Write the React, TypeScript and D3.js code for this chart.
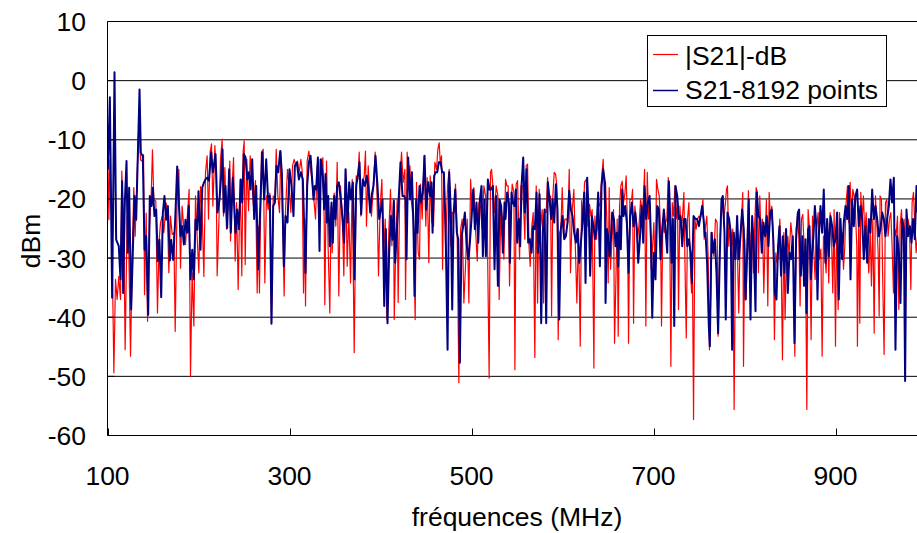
import React from "react";
import * as d3 from "d3";

const xTicks = [100, 300, 500, 700, 900];
const yTicks = [10, 0, -10, -20, -30, -40, -50, -60];
const seriesNames = ["|S21|-dB", "S21-8192 points"];
const xTitle = "fréquences (MHz)";
const yTitle = "dBm";

// |S21|-dB (red) : [MHz, dB]
const redPoints: [number, number][] = [
  [100.4,-12.2],[101.5,-23.5],[102.6,-13.4],[104.4,-21.2],[107,-49.4],[108.8,-33.6],[110.6,-37],[112.4,-33.1],[114.3,-37],[115.7,-15.3],
  [117.9,-24.6],[119.4,-45.5],[121.6,-22.9],[123.4,-28.6],[125.3,-46.6],[127.1,-30.3],[128.9,-18.1],[130.4,-26.3],[132.6,-15.6],[134.4,-7.4],
  [136.3,-13.4],[138.1,-13.6],[139.6,-12.5],[140.7,-36.2],[142.5,-22.4],[144,-40.7],[146.2,-24.6],[148,-19.5],[149.4,-11.7],[150.9,-20.1],
  [153.1,-20.4],[154.9,-39.3],[156.8,-26.9],[158.2,-24.1],[160.1,-22.9],[161.9,-25.7],[164.5,-20.7],[165.9,-22.9],[167.4,-32.5],[169.2,-22.9],
  [171.1,-26],[172.9,-25.7],[174.4,-42.4],[176.5,-20.1],[178.4,-15],[180.2,-31.7],[182,-21.2],[184.2,-25.7],[185.7,-27.7],[187.5,-23.5],
  [189.7,-18.4],[191.2,-50],[193,-32.5],[194.9,-41.5],[196.7,-19.5],[198.5,-26.3],[200.4,-32.5],[202.2,-17.9],[204,-22.4],[205.9,-33.1],
  [207.7,-15.5],[209.5,-12.7],[211,-23.4],[212.8,-12.1],[214.3,-10.7],[215.8,-21.2],[218,-11],[219.4,-15.5],[220.5,-33],[222.4,-24],
  [224.2,-13.3],[226,-9.9],[227.5,-22.9],[229,-14.7],[230.8,-25.1],[232.6,-20.6],[234.4,-13.6],[235.2,-27.1],[237,-17.8],[238.5,-13],
  [240.3,-30.5],[241.8,-20.6],[243.6,-35.3],[245.8,-16.7],[247.6,-33],[249.1,-11.9],[250.2,-10.2],[251.3,-31.1],[253.1,-13.3],[255,-22],
  [256.8,-12.7],[258.6,-16.9],[260.4,-21.2],[262.6,-16.9],[264.5,-35.9],[265.6,-24.6],[267,-35.9],[269.2,-12.1],[271.1,-11.6],[272.9,-34.2],
  [274.7,-19.5],[276.6,-21.8],[278.4,-19],[280.2,-41],[282.1,-19.5],[283.9,-20.6],[285.4,-11.6],[287.2,-19.5],[289,-22.3],[290.5,-11.9],
  [292.7,-25.1],[294.1,-36.4],[295.6,-22],[297.8,-15],[299.6,-17.8],[301.5,-22.3],[303.3,-14.4],[305.1,-13.3],[307,-14.4],[308.8,-13.6],
  [310.6,-15.5],[312.5,-13.3],[313.9,-15.2],[315.4,-35.9],[316.9,-23.4],
  [317.6,-38.1],[319.4,-13.6],[321.3,-11.9],[322.7,-14.4],[324.9,-17.2],[326.8,-20.1],[328.6,-23.4],[330.4,-14.4],[332.3,-23.4],[333.7,-13.3],
  [335.2,-15],[336.6,-13],[338.1,-23.4],[338.8,-37.9],[340.7,-13.6],[342.5,-28.5],[344.3,-39.3],[345.8,-21.2],[346.9,-29.1],[349.1,-19],
  [350.9,-24.6],[352.4,-13.8],[354.2,-36.4],[356,-17.8],[357.9,-22.3],[359.7,-33],[361.6,-15],[363.4,-31.4],[365.2,-22.3],[367.1,-34.2],
  [368.9,-16.7],[371.1,-46],[373.3,-16.1],[375.1,-16.7],[376.6,-12.1],[378.4,-22.9],[380.2,-17.8],[382.1,-16.1],[383.5,-11.9],[384.6,-24.6],
  [386.5,-14.4],[388.3,-20.1],[390.1,-22.9],[391.9,-18.4],[394.2,-12.1],[396,-17.8],[397.8,-33],[399.7,-21.2],[401.5,-16.7],[403.3,-30.2],
  [405.2,-23.4],[407,-40.4],[409.2,-25.1],[411,-18.4],[412.5,-27.9],[414.3,-20.1],[415.1,-40.4],[416.5,-30.2],[418.3,-20.1],[419.4,-37.5],
  [421.3,-16.7],[423.1,-12.1],[424.9,-17.2],[426.8,-15],
  [427.5,-37],[429.3,-12.1],[430.8,-17.2],[432.3,-14.4],[434.1,-20.6],[435.9,-23.4],[438.1,-40.4],[439.6,-17.2],[441.4,-29.1],[442.9,-30.2],
  [444,-17.5],[445.8,-23.4],[448,-12.7],[449.8,-24.6],[451.3,-16.4],[453.1,-30.8],[454.6,-16.1],[456.4,-24],[458.3,-24.6],[459.7,-13.8],
  [461.6,-15],[463,-11.6],[464.5,-10.5],[465.6,-13.8],[467.1,-12.7],[468.2,-31.9],[469.6,-15.5],[471.5,-28],[473.7,-17.8],[475.5,-15],
  [477.3,-28],[478.8,-22.3],[481,-22.3],[482.4,-17.5],[484.3,-26.3],[486.1,-51.1],[488,-25.1],[489.8,-23.4],[491.6,-37.6],[493.4,-31.4],
  [495.3,-23.4],[497.1,-37.6],[499,-16.7],[500.8,-21.8],[502.6,-18.1],[504.4,-25.1],[506.3,-30.5],[508.1,-20.6],[509.9,-21.2],[511.7,-25.1],
  [513.6,-17.8],[515.4,-19.5],[517.2,-22.9],[519.4,-50.3],[520.9,-15.5],[522,-15],[523.5,-17.8],[525.3,-22.3],[527.1,-17.8],[529,-19.5],
  [530.4,-37],[532.3,-21.2],[534.1,-23.4],[535.6,-30.2],
  [537.4,-16.7],[538.9,-17.8],[540.3,-17.8],[541.8,-34.7],[543.3,-22.9],[544.7,-17.5],[546.6,-18.9],[547.7,-48.9],[549.1,-17.5],[550.6,-16.9],
  [552.8,-30.2],[554.3,-17.8],[556.4,-17.8],[558.6,-26.8],[560.1,-14.4],[561.6,-14.1],[563.2,-28],[564.5,-31.4],[566,-25.1],[567.8,-22.3],
  [569.6,-46.8],[571.1,-17.8],[572.6,-37.6],[574.4,-18.4],[575.9,-24.6],[577.7,-21.8],[579.2,-37.6],[580.6,-21.8],[582.1,-22.3],[583.6,-16.4],
  [585.4,-20.1],[586.9,-19.5],[588,-39.8],[589.4,-19.5],[590.9,-15.5],[592.4,-15.8],[593.8,-17.8],[595.3,-43.8],[596.7,-25.7],[598.2,-25.1],
  [599.7,-18.1],[601.1,-26],[602.6,-23.4],[604.4,-23.4],[605.9,-24],[607.4,-15],[608.8,-32.5],[610.7,-21.8],[612.5,-18.4],[614,-27.4],
  [615.8,-37.6],[617.6,-25.1],[619.5,-44.9],[621,-20.3],[622.8,-23.4],[624.2,-17.2],[626.1,-16.7],[627.9,-24.6],[629.7,-20.9],[631.2,-22.9],
  [632.6,-21.8],[634.5,-48.6],[635.6,-22.9],[637.4,-26.8],[639.2,-20.6],[641.1,-21.2],[642.9,-16.7],[644.7,-13.3],[646.2,-20.6],
  [647.3,-17.2],[648.8,-24],[650.2,-34.2],[651.3,-18.1],[652.8,-31.9],[654.6,-26.3],[656.1,-21.8],[657.2,-44.4],[658.7,-33.6],[660.1,-23.4],
  [661.2,-43.2],[662.7,-21.2],[664.1,-17.8],[665.6,-17],[667.1,-20.6],[668.5,-19.2],[670,-16.1],[671.5,-25.7],[672.6,-44.4],[674,-20.1],
  [675.9,-20.1],[677,-18.4],[678.1,-41],[679.5,-21.2],[681,-23.4],[682.5,-26.8],[684,-24.6],[685.8,-20.1],[687.6,-22.3],[689.1,-19.5],
  [690.2,-15],[691.6,-41.5],[693.1,-15.5],[694.6,-23.4],[696,-20.6],[697.5,-31.9],[699,-28],[700.4,-24],[701.9,-33],[703.3,-16.7],
  [704.8,-18.4],[706.3,-19.5],[707.7,-25.1],[708.8,-41.5],[710.3,-23.4],[711.8,-25.7],[713.2,-24],[714.7,-23.4],[716.2,-16.4],[717.6,-20.1],
  [719.1,-48.3],[720.6,-20.6],[722,-22.9],[723.5,-17.8],[725,-23.4],[726.4,-20.6],[727.5,-38.7],[729,-21.2],[730.5,-25.1],[731.9,-22.9],
  [733.4,-18.9],[734.5,-30.2],[736,-43.5],[737.4,-23.4],[738.9,-20.6],[740.3,-30.2],[741.8,-35.9],[742.9,-33.6],[744,-57.3],[745.5,-23.4],
  [746.9,-25.1],[748.4,-23.4],[749.9,-22.9],[751.3,-23.4],[752.8,-22.3],[754.3,-20.1],[755.7,-26.8],
  [757.1,-24.6],[758.6,-22.9],[760.1,-30.2],[761.5,-45.5],[763,-35.9],[764.4,-25.7],[766.3,-29.7],[768.1,-23.4],[769.9,-24],[771,-43.2],
  [772.5,-30.8],[774,-23.4],[775.4,-20.1],[777.3,-23.4],[779.1,-20.6],[780.2,-18.4],[781.3,-17.8],[782.7,-28],[784.2,-24.6],[785.7,-28],
  [787.1,-25.1],[788.6,-55.6],[790.1,-28],[791.9,-26.3],[793.7,-39.3],[795.2,-26.3],[796.7,-23.4],[798.1,-18.9],[798.9,-48.3],[800.3,-26.8],
  [801.8,-37],[803.3,-25.1],[804.3,-18.6],[805.8,-31.4],[807.3,-25.7],[808.4,-25.1],[809.9,-32.5],[811.3,-24],[812.8,-18.1],[814.2,-18.9],
  [815.3,-32.5],[816.8,-19.5],[818.3,-26.8],[819.7,-23.4],[821.2,-35.9],[822.7,-26.3],[824.1,-20.1],[825.6,-38.1],[827.1,-18.9],[828.5,-23.4],
  [830,-21.2],[831.5,-26.3],[832.9,-43.8],[834.4,-29.1],[835.9,-30.8],[837.3,-29.1],[838.8,-23.4],[840.2,-29.1],[841.7,-47.2],[843.2,-25.7],
  [844.6,-40.4],[846.1,-29.1],[847.6,-26.3],[849,-29.7],[850.9,-24],[852.3,-26.3],[853.8,-30.2],[855.3,-46.6],[856.7,-25.1],[858.2,-22.9],
  [859.7,-26.3],[861.1,-38.1],[862.6,-23.4],[864,-22.6],[865.5,-28],
  [867,-29.1],[868.5,-55.6],[869.9,-21.8],[871.4,-25.1],[873.2,-43.8],[874.7,-22.9],[876.2,-29.1],[877.6,-33.6],[879.1,-25.1],[880.9,-22.3],
  [882.4,-30.2],[883.9,-28.5],[885.3,-46.6],[886.8,-26.3],[888.2,-29.1],[889.7,-32.5],[891.2,-24],[892.6,-34.2],[894.1,-22.3],[895.6,-26.3],
  [897,-35.9],[898.5,-21.8],[900,-44.9],[901.4,-23.4],[902.9,-38.7],[904.4,-22.3],[905.8,-26.8],[907.3,-25.7],[908.8,-31.9],[910.2,-28],
  [911.7,-20.6],[913.2,-17.8],[914.6,-24],[916.1,-17.2],[917.6,-23.4],[919,-18.4],[920.5,-19.5],[921.9,-22.3],[923.4,-28],[924.1,-44.9],
  [925.6,-22.3],[926.7,-41],[927.8,-18.9],[929.3,-23.4],[930.7,-19.5],[932.2,-26.3],[933.7,-22.3],[935.1,-28],[936.6,-32.5],[938.1,-25.1],
  [939.5,-34.7],[941,-23.4],[942.5,-42.7],[943.9,-19.5],[945.4,-24],[946.9,-29.1],[948,-39.8],[949,-19.5],[950.5,-20.1],[952,-34.7],
  [953.4,-46.3],[954.9,-20.6],[956.4,-20.1],[957.8,-26.3],[959.3,-23.4],[960.8,-22.3],[962.2,-28],[963.7,-35.9],[965.2,-25.1],[966.6,-26.3],
  [968.1,-22.9],[969.6,-38.7],[971,-24.6],[972.5,-21.8],[974,-26.8],[975.4,-23.4],[976.9,-30.2],[978.4,-25.7],[979.8,-23.4],[981.3,-25.1],
  [982.8,-35.3],[984.2,-20.6],[985.7,-18.9],[987.1,-24],[988.6,-29.1],[990.1,-26.3],
];

// S21-8192 points (navy) : [MHz, dB]
const bluePoints: [number, number][] = [
  [100.4,-15],[102.6,-2.8],[105.1,-36.7],[107.7,1.4],[109.5,-26.9],[112.4,-28],[114.3,-33.6],[116.1,-17],[117.2,-35.9],[119,-20.7],
  [120.9,-13.6],[122.3,-29.1],[123.8,-18.1],[126,-38.7],[127.8,-29.1],[129.7,-19.5],[131.5,-23.5],[133.7,-10.5],[135.2,-1.5],[136.6,-12.2],
  [138.8,-12.8],[140.7,-28.6],[142.5,-26.3],[144.7,-39.6],[146.5,-19.5],[148.4,-21.2],[149.8,-18.1],[151.6,-22.9],[153.5,-21.8],[155.3,-30.5],
  [157.1,-26.9],[159,-36.6],[160.8,-22.4],[162.6,-19.5],[164.5,-23.5],[166.3,-21.2],[168.5,-30.4],[170,-26.9],[172.2,-30.3],[174.4,-23.5],
  [176.6,-14.5],[178.4,-20.7],[180.2,-26.3],[182.1,-24.6],[183.9,-27.7],[185.7,-23.5],[187.6,-25.7],[189.3,-21.2],[191.2,-33.6],[193.1,-28.6],
  [194.8,-33.6],[196.7,-23.5],[198.6,-25.2],[200,-18.7],[202.2,-28.6],[204.1,-18.1],[205.8,-17.3],
  [207.7,-16.7],[209.5,-16.4],[211.4,-16.9],[213.9,-12.1],[215.8,-15.5],[218.7,-12.4],[220.9,-22.3],[223.1,-20.1],[224.9,-16.1],[226.4,-11.6],
  [227.8,-22.3],[229.7,-17.8],[231.5,-24.9],[233.7,-15],[235.5,-25.7],[237.7,-16.4],[240.7,-25.7],[242.5,-21.8],[244.3,-25.1],[246.5,-16.7],
  [248,-20.6],[249.8,-12.4],[251.7,-13],[253.5,-16.7],[255.3,-15.5],[257.2,-18.4],[259,-13.3],[261.2,-23.4],[263.4,-17.8],[265.6,-31.9],
  [267.4,-23.4],[270,-12.1],[272.2,-20.1],[274.4,-13.3],[276.6,-20.6],[278.4,-19.5],[280.2,-41.1],[282.1,-21.2],[283.9,-20.6],[285.7,-14.4],
  [287.6,-15.5],[289.8,-11.9],[291.6,-15.5],[293.8,-31.4],[295.6,-22.9],[297.8,-24],[300,-15],[302.2,-17.8],[304.4,-22.9],[305.9,-14.4],
  [308.1,-13.8],[310.3,-16.7],[312.5,-15.5],[314.7,-16.7],[316.1,-24.6],
  [317.6,-32.5],[319.4,-17.8],[321.3,-13.8],[323.1,-12.7],[324.9,-16.7],[326.4,-20.1],[327.9,-17.8],[329.3,-18.4],[331.2,-13],[333,-28.8],
  [334.5,-13.3],[336.6,-16.1],[338.1,-21.8],[339.6,-15.8],[341,-24],[342.5,-19.5],[344.3,-28],[346.2,-20.6],[347.6,-27.4],[349.1,-19.5],
  [350.6,-23.4],[352.4,-17.8],[354.2,-17.2],[356.4,-20.1],[358.3,-23.4],[360.1,-27.4],[361.6,-15],[363.8,-24],[365.6,-17.2],[367.4,-20.1],
  [369.6,-17.2],[371.4,-33.6],[373.3,-17.8],[375.1,-16.1],[376.9,-13.8],[378.8,-22.6],[380.6,-16.7],[382.8,-17.8],[385,-16.1],[386.8,-18.4],
  [388.7,-22.3],[390.5,-19.2],[392.3,-17.8],[394.5,-12.7],[396.7,-17.8],[398.6,-23.4],[400.4,-21.8],[402.2,-20.1],[404.1,-38.1],[405.9,-25.1],
  [407.7,-41],[409.5,-29.1],[411.4,-22.9],[413.2,-26.9],[414.7,-20.3],[416.1,-30.8],[418,-25.1],[419.8,-20.6],[422,-13.8],[424.2,-19.5],
  [426,-19.5],
  [427.5,-20.1],[428.6,-30.2],[430.4,-13],[432.6,-20.1],[434.5,-15.5],[436.3,-25.1],[437.4,-36.4],[439.2,-20.1],[440.7,-25.7],[442.9,-17.8],
  [444.7,-20.6],[446.5,-18.9],[448.4,-12.7],[450.2,-21.8],[452.4,-17.2],[454.6,-19.5],[456.1,-17.2],[457.2,-25.7],[459,-16.1],[460.5,-15.5],
  [462.3,-15.5],[464.1,-13.8],[466,-13.8],[467.8,-15.5],[469.6,-15.5],[471.5,-24.6],[473.7,-45.5],[475.5,-15.5],[477.3,-22.3],[478.8,-38.7],
  [480.3,-22.6],[482.1,-18.4],[483.9,-25.7],[485.4,-26.8],[487.2,-47.7],[489.1,-26.3],[490.9,-24.6],[492.7,-22.3],[494.5,-27.4],[496.4,-30.2],
  [498.2,-27.4],[500,-23.4],[501.9,-18.4],[503.7,-25.1],[505.5,-20.6],[507.4,-27.4],[509.2,-20.1],[511,-17.8],[512.5,-29.7],[514.3,-20.1],
  [515.8,-29.7],[518,-16.7],[519.8,-18.4],[521.6,-18.4],[523.5,-17.8],[525.3,-31.9],[527.1,-19.5],[529,-34.7],[530.8,-20.1],[532.6,-21.2],
  [534.5,-29.1],[536.3,-20.6],
  [537.4,-23.4],[539.2,-18.9],[541.1,-20.6],[542.2,-30.8],[544,-18.9],[545.5,-20.6],[547.3,-21.2],[548.8,-18.4],[550.2,-27.4],[552.1,-23.4],
  [553.5,-28],[555,-17.8],[556.8,-13],[558.6,-22.3],[560.5,-15],[562.3,-27.4],[564.1,-26.8],[566,-29.1],[567.8,-24.6],[569.6,-25.1],
  [571.5,-18.9],[573,-29.1],[574.8,-19.2],[576.6,-41],[578.4,-25.7],[580.3,-21.8],[582.1,-41],[583.9,-17.2],[585.8,-20.1],[587.6,-23.4],
  [589.1,-20.1],[590.9,-24],[592.7,-17.5],[594.5,-21.8],[596.4,-40.4],[598.2,-25.1],[600,-22.9],[601.9,-26.8],[603.7,-26.3],[605.5,-24],
  [607.4,-18.6],[609.2,-21.8],[611,-22.9],[612.9,-25.7],[614.7,-27.4],[616.5,-25.1],[618.4,-30.8],[620.2,-27.4],[622,-24],[623.9,-18.9],
  [625.3,-34.2],[627.1,-16.4],[629,-23.4],[630.4,-33],[632.3,-22.9],[634.1,-24.6],[635.6,-26.8],[637.4,-25.1],[639.2,-18.9],[641.1,-31.4],
  [642.9,-17.8],[644.7,-15],[646.6,-17.2],
  [647.3,-37.6],[648.8,-25.1],[650.2,-26.3],[651.7,-29.7],[653.2,-26.8],[654.6,-22.3],[656.5,-23.4],[658.3,-28],[659.8,-25.7],[661.2,-31.4],
  [662.7,-22.9],[664.1,-28.5],[665.6,-18.4],[667.1,-22.9],[668.9,-21.2],[670.7,-24],[672.6,-32.5],[674.4,-22.9],[676.2,-20.6],[678.1,-24.6],
  [679.9,-22.3],[681.7,-25.1],[683.2,-30.8],[685,-26.8],[686.9,-21.2],[688.7,-27.4],[690.2,-17.8],[692,-23.4],[693.8,-20.6],[695.7,-19.5],
  [697.1,-26.3],[698.6,-40.1],[700.4,-29.1],[702.2,-33.6],[704.1,-21.2],[705.9,-21.8],[707.7,-30.2],[709.6,-25.1],[711.4,-21.8],[713.2,-25.1],
  [715.1,-29.1],[716.9,-17],[718.7,-24.6],[719.8,-30.8],[721.3,-23.4],[722.8,-41.5],[724.2,-17.8],[726.1,-19.5],[727.9,-23.4],[729.7,-22.9],
  [731.6,-28],[733.4,-23.4],[735.2,-23.4],[737.1,-28],[738.9,-26.8],[740.7,-29.1],[742.2,-34.2],[744,-22.9],[746.2,-23.4],[748,-23.4],
  [749.9,-24.6],[751.7,-22.9],[753.5,-21.2],[755,-23.4],[756.5,-26.3],
  [757.1,-25.7],[758.9,-30.8],[760.8,-41.5],[761.9,-44.9],[763.7,-25.7],[765.5,-29.1],[767.4,-26.8],[769.2,-32.5],[771,-42.7],[772.9,-29.1],
  [774.7,-20.1],[776.1,-19.5],[778,-25.7],[779.4,-40.4],[781.3,-22.3],[783.1,-23.4],[784.9,-25.7],[786.4,-45.5],[788.2,-25.7],[790.1,-30.2],
  [791.9,-22.9],[793.7,-30.2],[795.6,-26.3],[797.4,-21.8],[799.2,-25.1],[801.1,-37],[802.9,-29.1],[804.7,-20.1],[806.6,-40.4],[808.4,-22.9],
  [810.2,-28],[812.1,-39],[813.5,-18.9],[815.3,-22.9],[817.2,-23.4],[819,-29.1],[820.8,-24],[822.7,-26.3],[824.5,-22.9],[826.3,-28],
  [828.2,-22.3],[830,-21.8],[831.8,-27.4],[833.3,-35.9],[835.1,-37],[836.9,-28],[838.4,-24.6],[840.2,-33],[842.1,-26.3],[843.9,-32.5],
  [845.7,-25.1],[847.6,-35.9],[849.4,-29.1],[851.2,-30.2],[853.1,-26.3],[854.9,-44.4],[856.7,-26.8],[858.6,-22.3],[860,-21.8],[861.9,-33],
  [863.7,-26.3],[865.5,-34.7],
  [867,-26.8],[868.1,-39.3],[869.9,-25.1],[871.4,-24.6],[872.9,-33.6],[874.3,-29.1],[875.8,-26.3],[877.3,-21.2],[878.7,-24],[880.2,-37],
  [881.7,-26.3],[883.5,-21.2],[885.3,-25.7],[887.1,-18.4],[889,-30.8],[890.8,-23.4],[892.6,-29.7],[894.5,-22.9],[896.3,-24.6],[898.1,-28],
  [900,-26.8],[901.8,-22.3],[903.6,-37],[905.5,-23.4],[907.3,-30.2],[909.1,-24],[911,-21.2],[912.8,-23.4],[914.6,-17.8],[916.5,-33.6],
  [918.3,-20.1],[920.1,-24.6],[921.9,-19.5],[923.8,-18.4],[925.6,-24.6],[927.4,-21.2],[929.3,-23.4],[931.1,-30.2],[932.9,-24.6],[934.8,-30.8],
  [936.6,-23.4],[938.4,-25.7],[940.3,-18.4],[942.1,-23.4],[943.9,-21.2],[945.8,-23.4],[947.6,-26.3],[949.4,-25.1],[951.3,-22.3],[953.1,-23.4],
  [954.9,-26.3],[956.7,-23.4],[958.6,-21.2],[960.4,-16.7],[962.2,-20.6],[964.1,-16.4],[965.9,-45.5],[967.7,-26.3],[969.6,-29.1],[971.4,-37.6],
  [973.2,-23.4],[975.1,-25.1],[976.5,-50.8],[978,-21.8],[979.8,-26.3],[981.7,-24.6],[983.5,-27.4],[985.3,-23.4],[987.1,-26.8],[989,-17.8],
  [990.1,-22.3],
];

const W = 917;
const H = 533;
const FONT = "'Liberation Sans', Arial, sans-serif";
const FS = 26.5;

export default function App() {
  const x = d3.scaleLinear().domain([100, 1000]).range([107.5, 926.5]);
  const y = d3.scaleLinear().domain([-60, 10]).range([435.5, 21.5]);
  const line = d3
    .line<[number, number]>()
    .x((d) => x(d[0]))
    .y((d) => y(d[1]));

  const plotLeft = x(100);
  const plotRight = W;
  const plotTop = y(10);
  const plotBottom = y(-60);

  return (
    <svg
      width={W}
      height={H}
      style={{ position: "absolute", left: 0, top: 0, background: "#fff" }}
      fontFamily={FONT}
    >
      <rect x={0} y={0} width={W} height={H} fill="#fff" />
      <defs>
        <clipPath id="plotClip">
          <rect x={plotLeft} y={plotTop - 2} width={plotRight - plotLeft} height={plotBottom - plotTop + 4} />
        </clipPath>
      </defs>
      {yTicks.map((t) => (
        <line key={"g" + t} x1={plotLeft} x2={plotRight} y1={y(t)} y2={y(t)} stroke="#000" strokeWidth={1} />
      ))}
      <g clipPath="url(#plotClip)">
        <path d={line(redPoints) || ""} fill="none" stroke="#ff0000" strokeWidth={1.2} strokeLinejoin="round" />
        <path d={line(bluePoints) || ""} fill="none" stroke="#000080" strokeWidth={2} strokeLinejoin="round" />
      </g>
      <line x1={plotLeft} x2={plotLeft} y1={plotTop} y2={plotBottom} stroke="#000" strokeWidth={1} />
      <line x1={plotLeft} x2={plotRight} y1={plotBottom} y2={plotBottom} stroke="#000" strokeWidth={1} />
      {xTicks.map((t) => (
        <line key={"xt" + t} x1={Math.round(x(t)) + 0.5} x2={Math.round(x(t)) + 0.5} y1={plotBottom} y2={plotBottom - 7} stroke="#000" />
      ))}
      {yTicks.map((t) => (
        <line key={"yt" + t} x1={plotLeft} x2={plotLeft + 7} y1={y(t)} y2={y(t)} stroke="#000" />
      ))}
      {xTicks.map((t) => (
        <text key={"xl" + t} x={x(t)} y={485} textAnchor="middle" fontSize={FS} fill="#000">
          {t}
        </text>
      ))}
      {yTicks.map((t) => (
        <text key={"yl" + t} x={86} y={y(t) + 9.5} textAnchor="end" fontSize={FS} fill="#000">
          {t}
        </text>
      ))}
      <text x={517} y={526} textAnchor="middle" fontSize={FS} fill="#000">
        {xTitle}
      </text>
      <text transform={`translate(40,241) rotate(-90)`} textAnchor="middle" fontSize={FS} fill="#000">
        {yTitle}
      </text>
      <rect x={647.5} y={35.5} width={239} height={71} fill="#fff" stroke="#000" strokeWidth={1} />
      <line x1={653} x2={678} y1={54.5} y2={54.5} stroke="#ff0000" strokeWidth={1.2} />
      <line x1={653} x2={678} y1={90.5} y2={90.5} stroke="#000080" strokeWidth={1.5} />
      <text x={685} y={64.5} fontSize={FS} fill="#000">
        {seriesNames[0]}
      </text>
      <text x={685} y={99} fontSize={FS} fill="#000">
        {seriesNames[1]}
      </text>
    </svg>
  );
}
